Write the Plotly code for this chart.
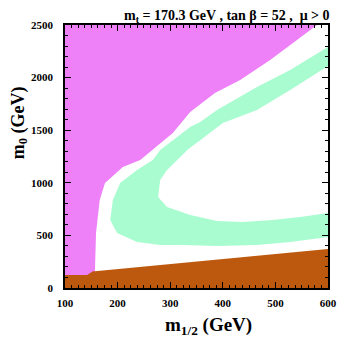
import plotly.graph_objects as go

# Excluded / allowed regions in the (m_1/2, m_0) plane
# charged LSP (stau) region, boundary from top right going down
stau_m12 = [100, 100, 579, 541, 490, 433, 385, 338, 305, 243, 210, 176, 166, 159, 157, 157]
stau_m0 = [0, 2500, 2500, 2357, 2167, 1977, 1854, 1673, 1473, 1217, 1150, 998, 837, 523, 171, 0]

# no EWSB / LEP excluded region at the bottom
bottom_m12 = [100, 100, 142, 153, 157, 600, 600]
bottom_m0 = [0, 124, 124, 160, 160, 371, 0]

# WMAP preferred strip: outer edge, then inner edge back
wmap_outer_m12 = [600, 528, 465, 389, 357, 338, 281, 267, 237, 205, 191, 186, 199, 237, 281, 324, 389, 465, 528, 600]
wmap_outer_m0 = [2291, 2072, 1911, 1692, 1578, 1530, 1312, 1217, 1122, 998, 837, 646, 523, 437, 409, 409, 399, 409, 437, 485]
wmap_inner_m12 = [600, 547, 495, 438, 389, 338, 294, 277, 281, 294, 334, 357, 400, 465, 528, 600]
wmap_inner_m0 = [713, 675, 646, 627, 637, 694, 770, 865, 1027, 1122, 1320, 1404, 1568, 1692, 1882, 2110]

font = "Liberation Serif"

fig = go.Figure()
fig.add_trace(go.Scatter(x=stau_m12, y=stau_m0, fill='toself', fillcolor='#EE80F8',
                         mode='none', hoverinfo='skip'))
fig.add_trace(go.Scatter(x=bottom_m12, y=bottom_m0, fill='toself', fillcolor='#BD590E',
                         mode='none', hoverinfo='skip'))
fig.add_trace(go.Scatter(x=wmap_outer_m12 + wmap_inner_m12, y=wmap_outer_m0 + wmap_inner_m0,
                         fill='toself', fillcolor='#A8FCCF', mode='none', hoverinfo='skip'))

axis_style = dict(showgrid=False, zeroline=False, showline=True, linecolor='black', linewidth=1.5,
                  mirror='ticks', ticks='inside', ticklen=6, tickwidth=1, tickcolor='black',
                  tickfont=dict(family=font, size=11, color='black', weight='bold'))

fig.update_xaxes(range=[100, 600], tickvals=[100, 200, 300, 400, 500, 600], ticklabelstandoff=4,
                 minor=dict(dtick=12.5, ticks='inside', ticklen=3, tickcolor='black'), **axis_style)
fig.update_yaxes(range=[0, 2500], tickvals=[0, 500, 1000, 1500, 2000, 2500], ticklabelstandoff=8,
                 minor=dict(dtick=100, ticks='inside', ticklen=3, tickcolor='black'), **axis_style)

# the page body adds an 8px offset, so the margins are shifted to compensate
fig.update_layout(
    width=361, height=346,
    margin=dict(l=57, r=41, t=17, b=66),
    plot_bgcolor='white', paper_bgcolor='white',
    showlegend=False,
    font=dict(family=font, color='black'),
    annotations=[
        dict(text="<b>m<sub>t</sub> = 170.3 GeV , tan \u03b2 = 52 ,  \u03bc > 0</b>",
             xref='paper', yref='paper', x=1.01, y=1.0, xanchor='right', yanchor='bottom',
             borderpad=0, yshift=-1, showarrow=False,
             font=dict(family=font, size=14, color='black')),
        dict(text="<b>m<sub>1/2</sub> (GeV)</b>", xref='paper', yref='paper', x=0.545, y=-0.09,
             xanchor='center', yanchor='top', showarrow=False,
             font=dict(family=font, size=19, color='black')),
        dict(text="<b>m<sub>0</sub> (GeV)</b>", xref='paper', yref='paper', x=-0.175, y=0.63,
             xanchor='center', yanchor='middle', textangle=-90, showarrow=False,
             font=dict(family=font, size=18, color='black')),
    ],
)

fig.write_html("out.html")
